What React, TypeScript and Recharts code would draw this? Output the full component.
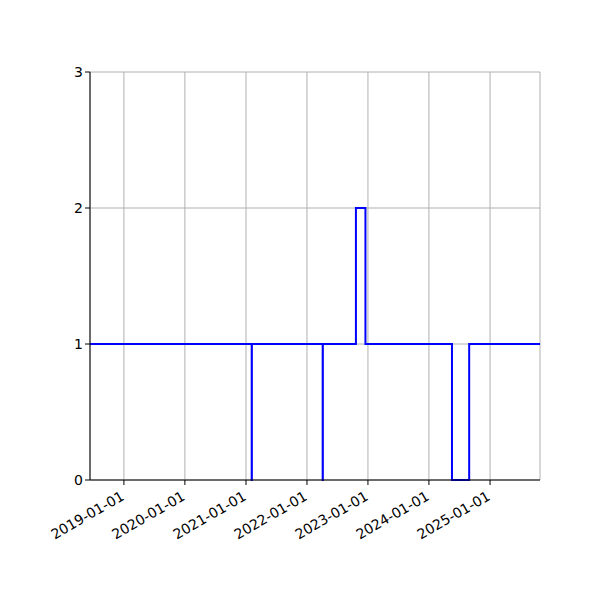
import React from "react";
import {
  LineChart,
  Line,
  XAxis,
  YAxis,
  CartesianGrid,
} from "recharts";

// step data, each value holds until the next date
const dates = [
  "2018-06-12",
  "2021-02-04",
  "2021-02-05",
  "2022-04-05",
  "2022-04-06",
  "2022-10-21",
  "2022-12-17",
  "2024-05-18",
  "2024-08-29",
  "2025-10-27",
];
const counts = [1, 0, 1, 0, 1, 2, 1, 0, 1, 1];

const xTickLabels = [
  "2019-01-01",
  "2020-01-01",
  "2021-01-01",
  "2022-01-01",
  "2023-01-01",
  "2024-01-01",
  "2025-01-01",
];
const yTicks = [0, 1, 2, 3];

const toMs = (s: string) => Date.parse(s + "T00:00:00Z");

const data = dates.map((d, i) => ({ t: toMs(d), n: counts[i] }));
const xTicks = xTickLabels.map(toMs);
const xDomain = [toMs(dates[0]), toMs(dates[dates.length - 1])];

const fmt = (v: number) => new Date(v).toISOString().slice(0, 10);

const font = "DejaVu Sans, sans-serif";

function DateTick({ x, y, payload }: any) {
  return (
    <g transform={`translate(${x - 4},${y + 3})`}>
      <text
        textAnchor="end"
        dominantBaseline="hanging"
        transform="rotate(-30)"
        fontSize={14}
        fontFamily={font}
        fill="#000"
      >
        {fmt(payload.value)}
      </text>
    </g>
  );
}

export default function App() {
  return (
    <div style={{ position: "absolute", left: 0, top: 0, width: 600, height: 600, background: "#fff" }}>
      <LineChart
        width={600}
        height={600}
        data={data}
        margin={{ top: 72, right: 60, bottom: 0, left: 0 }}
      >
        <CartesianGrid stroke="#b0b0b0" strokeWidth={1} />
        <XAxis
          dataKey="t"
          type="number"
          scale="time"
          domain={xDomain}
          ticks={xTicks}
          tick={<DateTick />}
          height={120}
          stroke="#000"
          tickSize={5}
          interval={0}
          allowDataOverflow
        />
        <XAxis
          xAxisId="top"
          orientation="top"
          dataKey="t"
          type="number"
          domain={xDomain}
          tick={false}
          tickLine={false}
          height={0}
          stroke="#000"
        />
        <YAxis
          type="number"
          domain={[0, 3]}
          ticks={yTicks}
          width={90}
          stroke="#000"
          tickSize={5}
          tick={{ fill: "#000", fontSize: 14, fontFamily: font }}
          interval={0}
        />
        <YAxis
          yAxisId="right"
          orientation="right"
          domain={[0, 3]}
          tick={false}
          tickLine={false}
          width={0}
          stroke="#000"
        />
        <Line
          dataKey="n"
          type="stepAfter"
          stroke="#0000ff"
          strokeWidth={2}
          dot={false}
          isAnimationActive={false}
        />
      </LineChart>
    </div>
  );
}
